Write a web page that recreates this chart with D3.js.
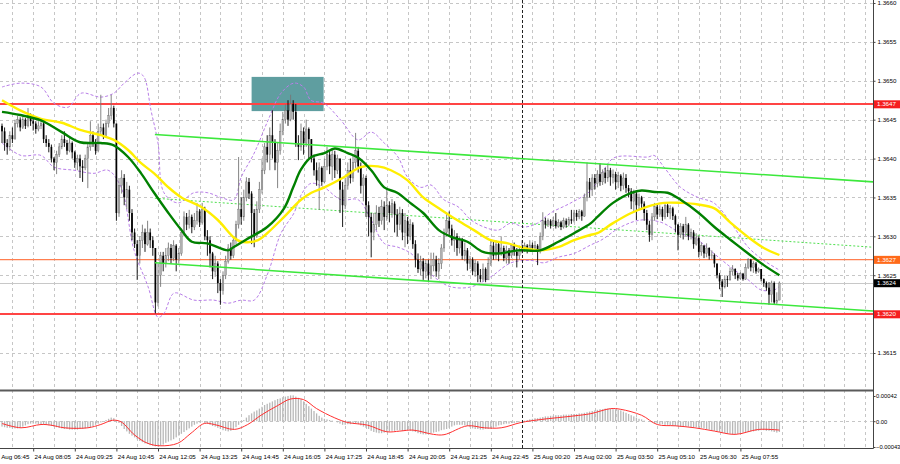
<!DOCTYPE html>
<html><head><meta charset="utf-8">
<script src="https://cdn.jsdelivr.net/npm/d3@7"></script>
<style>
html,body{margin:0;padding:0;background:#fff;}
svg{display:block;font-family:"Liberation Sans",Arial,sans-serif;}
</style></head><body>
<svg id="c" width="900" height="464"></svg>
<script>
// ---------- DATA (price values in pips above 1.3600) ----------
const firstOpen = 44.2;
const closeV = [
43.5,42,41.5,43,42.5,44.5,45,44,45,44.2,
45.5,44.8,44.5,43.8,44.2,44.5,42.5,42,41.5,40,
39.5,40.5,41.5,42.5,42,41,42,40.8,39.5,40,
39,38.8,40,41.5,43,42,41,43.5,44,43,
44.5,45.5,46.5,44.5,33,36.5,37.5,35,36,33,
30.5,29,27.5,29.5,30.5,29,30.5,29.5,28.5,21.5,
25,27.5,26.5,27.5,28.5,27.2,28.8,27,27.8,30.5,
32.5,31.5,32.5,31.2,32,33.2,31.8,33.5,30,29.5,
27.8,25.5,26.5,24,23,25,26.8,28.5,27.5,29.5,
31.5,33.5,32.5,35,37,35.5,33,30,33.5,36,
38.5,41.5,40.5,43,42,39.5,41,43.5,45,46.2,
45,47,46,42,41.5,43.5,42,43.8,42.5,40,
38.5,37.2,38.8,37,39,40.5,39,40.5,38.5,40,
36,34,36.5,38.5,37.5,39.5,41,39,36.5,37.5,
34,32.5,30.5,31.5,33,32,33.8,32.5,34,33,
34.2,32.8,31.5,33,30.5,32,30,31.5,29,27,
25.8,26.8,25.5,26.5,25,26.2,27,25.5,26.5,28.5,
30.5,32,31,29.5,30,28.5,29.5,27.5,28.2,26.5,
27,25.5,26.5,25,24.5,25.8,24.4,26.5,28.8,27.5,
29,27.8,28.5,27.2,28.2,27.5,28.8,28,27.5,28.2,
28.5,28.8,28.4,28.9,28.5,28.8,28.2,30,32,31.5,
32,31.4,32,31.3,31.8,31.2,32,31.5,32.2,32,
33,32.5,33.2,32.6,35,37,36,37.5,36.8,38,
37,38.2,37.5,38.5,37.6,38,37,37.8,36.5,37.5,
36.2,35.8,34.5,35.5,34,35,34.2,33,31.5,30.2,
32.5,33.8,32.8,33.5,32.5,34,33,33.6,32.6,31.5,
30.2,31.3,30.5,31.5,30,30.5,29,29.8,28,28.8,
27.8,28.5,27.5,27.6,26.5,25,24.2,23.5,24.5,24.4,
25.5,25.8,25,24.6,25.2,24.5,26,27,26,26.5,
25.5,25.8,24.5,24,23.4,22.5,24,21.5,21.8,24
];
const highV = [
44.5,44,42.5,43.5,44,45,45.5,45.3,45.5,45.2,
46.5,45.8,45.2,44.8,44.8,45.2,44.8,43,42.5,41.8,
40.2,41,42,43,43.5,42.4,42.8,42.2,41,40.5,
40.5,39.8,40.5,42,44.8,43.5,42.5,44.5,48.2,44.5,
45,46.5,48.2,46.8,44.5,37.5,38.5,38,37,36.5,
33.5,31,29.5,30,31.5,31,32,31,30,28.5,
26.5,28,28,28.5,29.2,29,29.5,29,28.5,31,
33.2,33,33.4,32.8,33,34.3,33.5,34.3,33.8,30.8,
30,28,27.5,26.8,24.5,25.5,27.5,29,29.2,30,
32,40.2,35,36,37.6,37.5,35.8,33.5,34.5,37,
40,42,43,44,46.2,42.5,42,44.5,46,47,
47.5,48.2,47.5,47,43,44.5,44,45,44,42.5,
40.5,39.5,39.5,39,40,41.5,41,41.2,41,40.5,
40,37,37.5,39.5,40,40.5,43.3,41.5,39.5,38,
37.8,34.5,33,33,34,33.8,34.7,34.5,36,34.5,
34.8,34.5,33.5,33.8,33.5,33,32.5,32.2,31.8,29.5,
27.8,27.5,27.2,27,27,27.9,27.9,27.5,27.2,29,
31,33,33.2,31.5,30.8,30.4,30,29.8,29.2,28.5,
27.5,27.3,27,26.8,25.8,26.5,26,27.3,29.5,29.5,
29.5,29.3,30,28.8,28.8,28.5,29,29.2,28.5,28.8,
29.5,29.2,29,29.5,29.2,29.4,29,30.5,33.1,32.4,
32.3,32.2,32.5,33,32.2,32,32.4,32.3,32.5,33.4,
33.4,33.4,33.5,33.4,35.5,39.5,37.5,38,38,38.5,
39.4,38.6,38.8,39.2,38.8,38.6,38.3,38.3,38,38.2,
38,36.6,36.2,36,35.8,35.5,35.2,34.5,33.4,32,
33,34.3,34.2,34,33.8,34.3,34.2,34,33.8,32.8,
31.6,31.7,31.6,32.5,31.7,31,30.8,30.4,30,29.2,
28.9,29.1,28.6,28.2,27.8,26.5,25.3,24.5,25,24.9,
26,26.3,25.9,25.3,25.4,25.3,26.5,27.2,27.1,26.8,
26.7,26,25.8,24.6,24.2,24.1,24.3,24.2,22.8,24.2
];
const lowV = [
42,41,40.5,41,42,42.5,44,43.5,43.8,43.8,
44,44.2,43.6,43.2,43.5,43.8,42,41.5,40.8,39.5,
38.5,38,40.2,41.2,41.5,40.5,40.8,40,38.8,38.5,
37.5,37,38.5,36.2,41,41.5,40.5,40.8,43,42.5,
42.8,44,45,44,32,32.5,35.5,34,33.5,32,
29.5,28.5,24.4,26.5,28.5,28,28.8,28.5,27.5,20.1,
21,23.5,25.5,26,26.8,26.5,26.8,25.5,26.5,27.5,
30,30.8,31,30.4,30.8,31.5,31.2,31.5,29.5,27.5,
26,24.5,24.8,22.7,21.2,22.5,24.5,26.5,27,27.2,
29,31,31.5,32,34.5,34.8,29,28.6,29.8,33,
35.5,38,39.5,38.5,40,38.5,36.2,40.5,43,44.5,
44.2,44.8,45,41.5,39.8,41,40.5,41.5,40,39.5,
37.8,36.5,33.4,36.5,36.8,38.5,38,37.2,37.5,38,
33,31.2,33.5,36,36.8,37,38.8,38.2,35.5,34.5,
32.5,30,27.3,29.5,30.8,31.2,31.5,30.8,32,31.8,
32.4,30.5,30,30.8,29.5,28.6,29,29.5,28.4,26,
25.3,25,24.4,24.6,24.2,24.5,25.5,24.8,24.5,25.8,
28,30,30.2,28.8,28,27.5,27.8,27,26.8,25.6,
25.8,25,24.8,24.1,24.1,24.2,24.1,24.4,26.2,27,
27,26.8,27.5,26.8,26.5,26.5,27.2,27.5,26,27,
27.8,28,27.8,28.2,28,28.1,26.3,27.8,29.5,31,
31.2,31,31.2,31,31.1,30.8,31,31.1,31.3,31.6,
31.8,32,32.2,32,32.5,34.5,35,35.2,36,36.3,
36.5,36.6,36.8,37,36.5,36.8,36,36.2,35.8,36,
35.6,35,33.5,33.2,32.1,33.5,33.4,32,30.8,29.3,
29.5,32,32.2,32.5,32,32.2,32.5,32.2,32.1,30.5,
28.2,29.8,29.6,30,29.5,29.6,28.4,28.8,27.3,27.5,
27.2,27.3,27,27.1,26,24.6,23.2,22.2,23.3,23.5,
24.3,25,24.5,24.3,24.4,24.3,24.4,25.8,25.5,25.3,
25.2,25.3,24.2,23.5,23,21.2,21.5,21.2,21.2,21.8
];
// moving averages / bands read as [bar index, pips]
const maYellow = [[0,47.5],[7,46.2],[15,45.1],[23,44.6],[30,43.7],[38,43.0],[43,42.4],[48.5,41.1],[53.5,39.4],[58.5,38.1],[64,36.3],[69,35.0],[76.5,33.8],[83,32.1],[89,29.9],[92,29.3],[98.5,29.5],[102,30.4],[108.5,32.5],[115,34.7],[119,35.6],[124,36.3],[131.5,37.6],[138,38.9],[144.6,39.0],[149.6,38.5],[156,37.2],[162,35.0],[169,33.4],[175,32.1],[181.5,30.8],[188,29.5],[194.6,29.1],[200.8,28.5],[207,28.2],[213.8,28.6],[220,29.5],[226.5,30.2],[229,30.4],[235,31.7],[242,33.0],[248,33.8],[254.6,34.3],[261,34.3],[267.7,34.1],[274,33.6],[280.4,31.7],[287,29.9],[293,28.5],[299,27.6]];
const maGreen = [[0,46.0],[7,45.6],[15,44.9],[23,43.4],[30,42.1],[38,42.0],[43,41.7],[48.5,40.2],[53.5,38.1],[58.5,35.6],[64,33.0],[69,30.8],[73,29.3],[79,29.1],[87,28.2],[89,28.6],[95,29.8],[102,31.2],[108.5,33.6],[112,36.3],[115,38.6],[119,40.2],[124,40.7],[128,41.3],[133,40.7],[137,40.1],[142,38.5],[147,36.3],[152,35.6],[157,34.3],[162,33.0],[168,30.8],[173,29.9],[179,29.3],[185,28.0],[191,27.8],[198.5,28.2],[207,28.2],[214,29.3],[220,30.4],[226.5,31.7],[229,32.5],[235,34.3],[242,35.6],[246,35.9],[251,35.7],[256,35.6],[261,34.7],[268,33.0],[274,31.2],[280.4,29.5],[287,27.8],[293,26.3],[299,25.0]];
const bandUpper = [[0,49.2],[7.3,49.7],[15,49.2],[20,47.1],[25.4,46.6],[30.4,48.4],[38,47.9],[43,48.4],[47,49.7],[52.3,51.0],[54.6,50.5],[57.3,46.2],[60,42.0],[62.3,35.6],[67.7,34.3],[73.8,35.6],[79.2,35.6],[84.2,35.0],[89.2,34.7],[92,37.6],[97,40.7],[102.3,44.9],[107.3,48.4],[112.3,49.7],[116,49.2],[118.8,47.5],[123.8,47.1],[130.4,44.9],[137,42.4],[142,43.4],[147,42.0],[152.3,40.2],[156,37.6],[161,36.3],[165,36.6],[170,34.7],[175.4,33.8],[180.4,32.1],[185.4,31.2],[190.8,30.8],[195.8,31.7],[200.8,31.2],[206,31.7],[211,33.0],[218.8,34.3],[226.5,35.9],[230.4,37.9],[235.4,40.1],[248.5,40.2],[250.8,40.4],[254.6,38.9],[261,36.3],[267.7,35.0],[273.8,34.3],[280.4,31.7],[287,28.6],[293,26.9],[298.8,25.7]];
const bandLower = [[0,42.0],[7.3,40.4],[15,40.4],[20,38.9],[27.7,38.5],[35.4,38.1],[40.8,38.5],[45.8,36.3],[50.8,28.2],[56.2,23.5],[60,19.6],[62.3,20.1],[66.2,22.7],[73.8,21.8],[81.5,21.8],[86.9,21.4],[92,21.8],[97,21.8],[102.3,25.3],[107.3,30.4],[112.3,33.0],[115,35.3],[118.8,36.8],[123.8,36.3],[130.4,34.7],[137,34.7],[142,32.1],[147,29.1],[152.3,28.6],[157.3,27.8],[162.3,26.0],[167.7,24.4],[172.7,23.5],[180.4,23.5],[188,24.8],[195.8,26.6],[203.5,26.9],[208.5,26.6],[213.8,27.3],[220,27.8],[226.5,28.9],[230.4,29.5],[238,31.2],[245.8,32.1],[253.5,31.8],[261,30.4],[267.7,29.5],[273.8,27.8],[280.4,26.0],[287,24.4],[292,23.1],[297,23.1],[298.8,23.5]];
// MACD (units of 0.00001)
const macdHist = [
-9,-10,-11,-11,-12,-12,-12,-11,
-9,-7,-5,-4,-4,-4,-5,-5,-6,-6,-7,
-8,-9,-10,-11,-12,-13,-13,-14,-14,-14,-14,-13,-13,-12,-11,-10,-8,
-6,-4,-2,0,2,4,6,
5,2,-3,-8,-13,-17,-21,-24,-27,-30,-33,-35,-37,-38,-40,-41,-42,-42,
-41,-39,-36,-34,-32,-30,-27,-24,-21,-18,-15,-12,-9,-6,-4,-2,-1,
-3,-4,-6,-8,-9,-11,
-13,-15,-16,-17,-16,-14,
-10,-6,-2,2,6,
10,13,16,18,21,24,27,29,31,33,35,37,38,40,41,42,
43,43,41,39,37,
33,29,25,21,17,13,9,
6,4,3,2,1,0,
-2,-4,-6,-6,-5,-5,-4,-3,-5,-7,-9,-11,
-13,-16,-18,-19,-20,-20,-19,-18,
-17,-16,-16,-15,-15,-16,-16,-15,-16,-17,-18,-20,
-21,-22,-22,-21,-20,-19,-18,-17,-15,-14,-13,-11,-9,
-7,-6,-6,-6,-7,-8,-10,
-12,-13,-13,-14,-14,-13,-13,-12,-11,-9,
-7,-6,-5,-4,-4,-3,-3,-2,-1,
0,1,2,3,4,5,5,6,
7,8,8,9,9,10,10,10,11,11,11,12,12,12,13,13,14,15,16,
17,18,19,20,20,21,21,21,20,20,19,18,
16,14,12,10,8,6,4,3,1,0,
-1,-2,-3,-4,-5,-5,-6,-6,-7,-7,
-8,-8,-9,-9,-9,-9,-10,-10,-10,-11,-11,-12,-13,
-14,-15,-16,-17,-18,-19,-20,-21,-21,-22,-22,-21,-20,
-19,-18,-18,-17,-17,-16,
-16,-15,-15,-16,-16,-17,-18,-19,-18
];
const macdSignal = [[0,-3.8],[7.3,-11],[15,-5.5],[18.8,-6.6],[24,-11],[33,-11],[38,-5.5],[42.6,1.6],[45.8,-1.1],[51,-23],[56,-36.8],[61,-41],[67.6,-36.8],[72.7,-20],[77.8,-3.8],[81.7,-5.5],[89.4,-13.7],[94.5,-5.5],[99.6,9.9],[106,26],[111,37],[116,36],[121,21],[128,5.5],[133,-2.2],[140.6,-6.6],[148,-17.6],[153,-16.5],[158,-14.8],[166,-22],[170,-22.5],[179,-7.7],[185.5,-11],[192,-11],[199.6,-2.2],[207,2.7],[220,8.8],[226.5,12.6],[234,20.9],[238,19.8],[246,9.9],[252,-5.5],[259,-7.7],[266.5,-11],[274,-16.5],[282,-22],[291,-13.7],[299,-14.8]];
// levels and objects
const redLevels = [1.3647, 1.3620];
const orangeLevel = 1.3627;
const channelUpper = [[58.8, 1.36431], [335, 1.36370]];
const channelLower = [[58.8, 1.36266], [335, 1.36204]];
const channelMid = [[58.8, 1.36349], [335, 1.36286]];
const zone = {i0: 96, i1: 123.7, pLow: 1.36461, pHigh: 1.36505};
const separatorBar = 200;
const priceTicks = [1.3615,1.3620,1.3625,1.3630,1.3635,1.3640,1.3645,1.3650,1.3655,1.3660];
const macdTicks = [42, 0, -43];
const timeLabels = ["24 Aug 06:45","24 Aug 08:05","24 Aug 09:25","24 Aug 10:45","24 Aug 12:05","24 Aug 13:25","24 Aug 14:45","24 Aug 16:05","24 Aug 17:25","24 Aug 18:45","24 Aug 20:05","24 Aug 21:25","24 Aug 22:45","25 Aug 00:20","25 Aug 02:00","25 Aug 03:50","25 Aug 05:10","25 Aug 06:30","25 Aug 07:55"];

// ---------- DRAW ----------
const svg = d3.select("#c");
const W = 873, MAIN_B = 390, IND_B = 448;
const x = d3.scaleLinear().domain([0, 299]).range([2, 779.4]);
const y = d3.scaleLinear().domain([1.3615, 1.3660]).range([353, 3]);
const ym = d3.scaleLinear().domain([-43, 42]).range([447, 396]);
const P = v => 1.36 + v / 10000;
const sx = v => Math.round(v) + 0.5;

const defs = svg.append("defs");
defs.append("clipPath").attr("id","cm").append("rect").attr("x",0).attr("y",0).attr("width",W).attr("height",MAIN_B);
defs.append("clipPath").attr("id","ci").append("rect").attr("x",0).attr("y",MAIN_B+1).attr("width",W).attr("height",IND_B-MAIN_B-1);

const labelBars = timeLabels.map((d,i)=> -4 + 16*i);
const gridBars = d3.range(-4, 336, 8);

// grid
const grid = svg.append("g").attr("stroke","#c6c6c6").attr("stroke-dasharray","3,3").attr("stroke-width",1);
grid.selectAll(".vg").data(gridBars.filter(b=>x(b)>=0 && x(b)<W)).join("line")
  .attr("x1",d=>sx(x(d))).attr("x2",d=>sx(x(d))).attr("y1",0).attr("y2",IND_B);
grid.selectAll(".hg").data(priceTicks).join("line")
  .attr("x1",0).attr("x2",W).attr("y1",d=>sx(y(d))).attr("y2",d=>sx(y(d)));
grid.append("line").attr("x1",0).attr("x2",W).attr("y1",sx(ym(0))).attr("y2",sx(ym(0)));

const main = svg.append("g").attr("clip-path","url(#cm)");

// zone rectangle
main.append("rect").attr("x",x(zone.i0)).attr("width",x(zone.i1)-x(zone.i0))
  .attr("y",y(zone.pHigh)).attr("height",y(zone.pLow)-y(zone.pHigh)).attr("fill","#5f9ea0");

// channel mid (dotted)
const cl = d3.line().x(d=>x(d[0])).y(d=>y(d[1]));
main.append("path").attr("d",cl(channelMid)).attr("fill","none").attr("stroke","#4fe04f").attr("stroke-width",1).attr("stroke-dasharray","2,2");

// horizontal levels
main.selectAll(".rl").data(redLevels).join("line").attr("x1",0).attr("x2",W)
  .attr("y1",d=>y(d)).attr("y2",d=>y(d)).attr("stroke","#ff4444").attr("stroke-width",2);
main.append("line").attr("x1",0).attr("x2",W).attr("y1",y(orangeLevel)).attr("y2",y(orangeLevel)).attr("stroke","#ff7f50").attr("stroke-width",1.2);
const lastClose = P(closeV[closeV.length-1]);
main.append("line").attr("x1",0).attr("x2",W).attr("y1",sx(y(lastClose))).attr("y2",sx(y(lastClose))).attr("stroke","#c8c8c8").attr("stroke-width",1);

// bollinger bands
const ln = d3.line().x(d=>x(d[0])).y(d=>y(P(d[1]))).curve(d3.curveCatmullRom.alpha(0.5));
[bandUpper, bandLower].forEach(b=>{
  main.append("path").attr("d",ln(b)).attr("fill","none").attr("stroke","#b87ee8").attr("stroke-width",1).attr("stroke-dasharray","3,2");
});

// candles
const candles = closeV.map((c,i)=>{
  const o = i===0 ? firstOpen : closeV[i-1];
  return {i, o, c, h: Math.max(highV[i], o, c), l: Math.min(lowV[i], o, c)};
});
const cg = main.append("g");
cg.selectAll(".wk").data(candles).join("line")
  .attr("x1",d=>x(d.i)).attr("x2",d=>x(d.i)).attr("y1",d=>y(P(d.h))).attr("y2",d=>y(P(d.l)))
  .attr("stroke",d=>d.c>=d.o?"#777":"#000").attr("stroke-width",0.9);
cg.selectAll(".bd").data(candles).join("rect")
  .attr("x",d=>x(d.i)-0.85).attr("width",1.7)
  .attr("y",d=>y(P(Math.max(d.o,d.c))))
  .attr("height",d=>Math.max(0.8, Math.abs(y(P(d.o))-y(P(d.c)))))
  .attr("fill",d=>d.c>=d.o?"#b0b0b0":"#000")
  .attr("stroke",d=>d.c>=d.o?"#6a6a6a":"none").attr("stroke-width",0.35);

// channel solid lines
[channelUpper, channelLower].forEach(c=>{
  main.append("path").attr("d",cl(c)).attr("fill","none").attr("stroke","#3ce83c").attr("stroke-width",1.6);
});

// moving averages
main.append("path").attr("d",ln(maYellow)).attr("fill","none").attr("stroke","#ffee00").attr("stroke-width",2.4);
main.append("path").attr("d",ln(maGreen)).attr("fill","none").attr("stroke","#008000").attr("stroke-width",2.4);

// MACD
const ind = svg.append("g").attr("clip-path","url(#ci)");
ind.selectAll(".hb").data(macdHist).join("rect")
  .attr("x",(d,i)=>x(i)-0.65).attr("width",1.3)
  .attr("y",d=>Math.min(ym(0),ym(d))).attr("height",d=>Math.abs(ym(d)-ym(0)))
  .attr("fill","#b8b8b8");
const sl = d3.line().x(d=>x(d[0])).y(d=>ym(d[1])).curve(d3.curveCatmullRom.alpha(0.5));
ind.append("path").attr("d",sl(macdSignal)).attr("fill","none").attr("stroke","#ff3030").attr("stroke-width",1);

// period separator
svg.append("line").attr("x1",sx(x(separatorBar))).attr("x2",sx(x(separatorBar))).attr("y1",0).attr("y2",IND_B)
  .attr("stroke","#222").attr("stroke-width",1).attr("stroke-dasharray","3,2");

// frame
svg.append("line").attr("x1",0).attr("x2",W).attr("y1",MAIN_B+0.5).attr("y2",MAIN_B+0.5).attr("stroke","#5a5a5a").attr("stroke-width",2);
svg.append("line").attr("x1",0).attr("x2",W+0.5).attr("y1",IND_B+0.5).attr("y2",IND_B+0.5).attr("stroke","#444").attr("stroke-width",1);
svg.append("line").attr("x1",W+0.5).attr("x2",W+0.5).attr("y1",0).attr("y2",IND_B+0.5).attr("stroke","#444").attr("stroke-width",1);

// axes
const fs = "6.2px";
const gR = svg.append("g").attr("transform",`translate(${W+0.5},0)`)
  .call(d3.axisRight(y).tickValues(priceTicks).tickFormat(d3.format(".4f")).tickSize(2).tickPadding(2).tickSizeOuter(0));
gR.select(".domain").remove();
gR.selectAll("text").attr("font-size",fs).attr("fill","#000");
gR.selectAll("line").attr("stroke","#444");

const gM = svg.append("g").attr("transform",`translate(${W+0.5},0)`)
  .call(d3.axisRight(ym).tickValues(macdTicks).tickFormat(d=> d===0 ? "0.00" : d3.format(".5f")(d/1e5)).tickSize(2).tickPadding(0.5).tickSizeOuter(0));
gM.select(".domain").remove();
gM.selectAll("text").attr("font-size","5.8px").attr("fill","#000");
gM.selectAll("line").attr("stroke","#444");

const gB = svg.append("g").attr("transform",`translate(0,${IND_B+0.5})`)
  .call(d3.axisBottom(x).tickValues(labelBars).tickFormat((d,i)=>timeLabels[i]).tickSize(3).tickPadding(3.5).tickSizeOuter(0));
gB.select(".domain").remove();
gB.selectAll("text").attr("font-size",fs).attr("fill","#000").attr("text-anchor","start").attr("dx","0.8");
gB.selectAll("line").attr("stroke","#444");

// price tags
const tags = [
  {p: redLevels[0], fill:"#f51f1f"},
  {p: orangeLevel, fill:"#ff6a1a"},
  {p: lastClose, fill:"#000"},
  {p: redLevels[1], fill:"#f51f1f"}
];
const tg = svg.append("g");
tg.selectAll("rect").data(tags).join("rect")
  .attr("x",W+1).attr("width",26).attr("y",d=>y(d.p)-3.8).attr("height",8).attr("fill",d=>d.fill);
tg.selectAll("text").data(tags).join("text")
  .attr("x",W+4).attr("y",d=>y(d.p)+2.3).attr("font-size",fs).attr("fill","#fff")
  .text(d=>d3.format(".4f")(d.p));
</script>
</body></html>
